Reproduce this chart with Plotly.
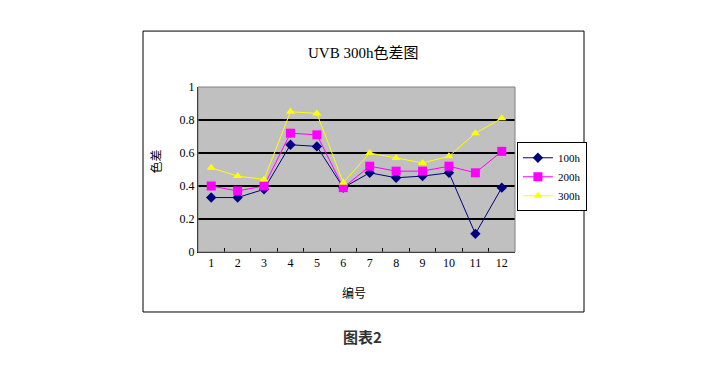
import plotly.graph_objects as go

categories = ["1", "2", "3", "4", "5", "6", "7", "8", "9", "10", "11", "12"]
s100 = [0.33, 0.33, 0.38, 0.65, 0.64, 0.39, 0.48, 0.45, 0.46, 0.48, 0.11, 0.39]
s200 = [0.40, 0.37, 0.40, 0.72, 0.71, 0.39, 0.52, 0.49, 0.49, 0.52, 0.48, 0.61]
s300 = [0.51, 0.46, 0.44, 0.85, 0.84, 0.42, 0.60, 0.57, 0.54, 0.58, 0.72, 0.81]
names = ["100h", "200h", "300h"]
yticks = [0, 0.2, 0.4, 0.6, 0.8, 1]
ytick_text = ["0", "0.2", "0.4", "0.6", "0.8", "1"]

FONT = "Liberation Serif, Noto Sans CJK SC, serif"
CJK = "Noto Sans CJK SC, sans-serif"

fig = go.Figure()
fig.add_trace(go.Scatter(x=categories, y=s100, name=names[0], mode="lines+markers",
                         line=dict(color="#000080", width=1),
                         marker=dict(symbol="diamond", size=8, color="#000080")))
fig.add_trace(go.Scatter(x=categories, y=s200, name=names[1], mode="lines+markers",
                         line=dict(color="#FF00FF", width=1),
                         marker=dict(symbol="square", size=9, color="#FF00FF")))
fig.add_trace(go.Scatter(x=categories, y=s300, name=names[2], mode="lines+markers",
                         line=dict(color="#FFFF00", width=1),
                         marker=dict(symbol="triangle-up", size=8, color="#FFFF00")))

# page body adds an 8px offset, so the figure is drawn 8px smaller and shifted
fig.update_layout(
    width=694, height=357,
    margin=dict(l=190, r=187, t=79, b=113),
    paper_bgcolor="white",
    plot_bgcolor="#C0C0C0",
    font=dict(family=FONT, size=11, color="black"),
    showlegend=True,
    legend=dict(x=1.006, y=0.665, xanchor="left", yanchor="top",
                bordercolor="black", borderwidth=1, bgcolor="white",
                font=dict(size=11, family=FONT), tracegroupgap=0,
                itemwidth=30),
    xaxis=dict(type="category", tickson="boundaries", ticks="inside", ticklen=4,
               tickcolor="black", showline=True, linecolor="black", linewidth=1,
               showgrid=False, zeroline=False, range=[-0.5, 11.5],
               tickfont=dict(family=FONT, size=12)),
    yaxis=dict(range=[0, 1], tickvals=yticks, ticktext=ytick_text, ticks="",
               showline=True, linecolor="black", linewidth=1,
               showgrid=True, gridcolor="black", gridwidth=1.5, zeroline=False,
               tickfont=dict(family=FONT, size=12)),
    shapes=[
        dict(type="rect", xref="paper", yref="paper", x0=-0.1735, x1=1.2177,
             y0=-0.3636, y1=1.339, line=dict(color="black", width=1), layer="below"),
        dict(type="rect", xref="paper", yref="paper", x0=0, x1=1, y0=0, y1=1,
             line=dict(color="#808080", width=1), layer="above"),
    ],
    annotations=[
        dict(text="UVB 300h色差图", x=0.519, y=1.206, xref="paper", yref="paper",
             showarrow=False, font=dict(family=FONT, size=15), xanchor="center", yanchor="middle"),
        dict(text="编号", x=0.492, y=-0.248, xref="paper", yref="paper",
             showarrow=False, font=dict(family=CJK, size=12), xanchor="center", yanchor="middle"),
        dict(text="色差", x=-0.135, y=0.55, xref="paper", yref="paper", textangle=-90,
             showarrow=False, font=dict(family=CJK, size=12), xanchor="center", yanchor="middle"),
        dict(text="<b>图表2</b>", x=0.52, y=-0.515, xref="paper", yref="paper",
             showarrow=False, font=dict(family=CJK, size=15, color="#333333"),
             xanchor="center", yanchor="middle"),
    ],
)

fig.write_html("out.html")
